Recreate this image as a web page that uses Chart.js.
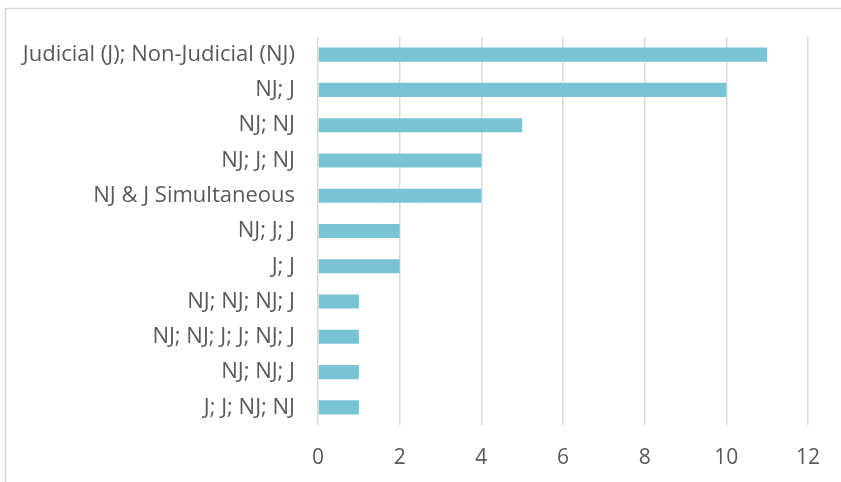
<!DOCTYPE html>
<html>
<head>
<meta charset="utf-8">
<script src="https://cdn.jsdelivr.net/npm/chart.js@4.4.0/dist/chart.umd.min.js"></script>
<style>
  html, body { margin: 0; padding: 0; background: #fff; }
  #wrap { width: 841px; height: 482px; position: relative; }
</style>
</head>
<body>
<div id="wrap"><canvas id="barChart" width="841" height="482"></canvas></div>
<script>
const categories = [
    'Judicial (J); Non-Judicial (NJ)',
    'NJ; J',
    'NJ; NJ',
    'NJ; J; NJ',
    'NJ & J Simultaneous',
    'NJ; J; J',
    'J; J',
    'NJ; NJ; NJ; J',
    'NJ; NJ; J; J; NJ; J',
    'NJ; NJ; J',
    'J; J; NJ; NJ'
];
const counts = [11, 10, 5, 4, 4, 2, 2, 1, 1, 1, 1];
const xTicks = [0, 2, 4, 6, 8, 10, 12];

// Outer frame like the spreadsheet chart border
const framePlugin = {
    id: 'frame',
    beforeDraw(chart) {
        const c = chart.ctx;
        c.save();
        c.strokeStyle = '#d9d9d9';
        c.lineWidth = 1.5;
        c.strokeRect(5.5, 8.5, 900, 600);
        c.restore();
    }
};

const ctx = document.getElementById('barChart');
new Chart(ctx, {
    type: 'bar',
    data: {
        labels: categories,
        datasets: [{
            data: counts,
            backgroundColor: '#78c4d5',
            borderWidth: 0,
            categoryPercentage: 1,
            barPercentage: 0.4
        }]
    },
    options: {
        indexAxis: 'y',
        responsive: false,
        animation: false,
        layout: { padding: { top: 37, right: 33, bottom: 0, left: 10 } },
        plugins: { legend: { display: false }, tooltip: { enabled: false } },
        scales: {
            x: {
                min: 0,
                max: 12,
                afterBuildTicks(scale) { scale.ticks = xTicks.map(v => ({ value: v })); },
                grid: { color: '#d9d9d9', lineWidth: 1.5, drawTicks: false },
                border: { display: false },
                ticks: {
                    color: '#595959',
                    font: { family: "'Open Sans', sans-serif", size: 21 },
                    padding: 20
                },
                afterFit(scale) { scale.height = 57; }
            },
            y: {
                grid: { display: false },
                border: { display: false },
                ticks: {
                    color: '#595959',
                    font: { family: "'Open Sans', sans-serif", size: 22 },
                    padding: 15
                },
                afterFit(scale) { scale.width = 308; }
            }
        }
    },
    plugins: [framePlugin]
});
</script>
</body>
</html>
